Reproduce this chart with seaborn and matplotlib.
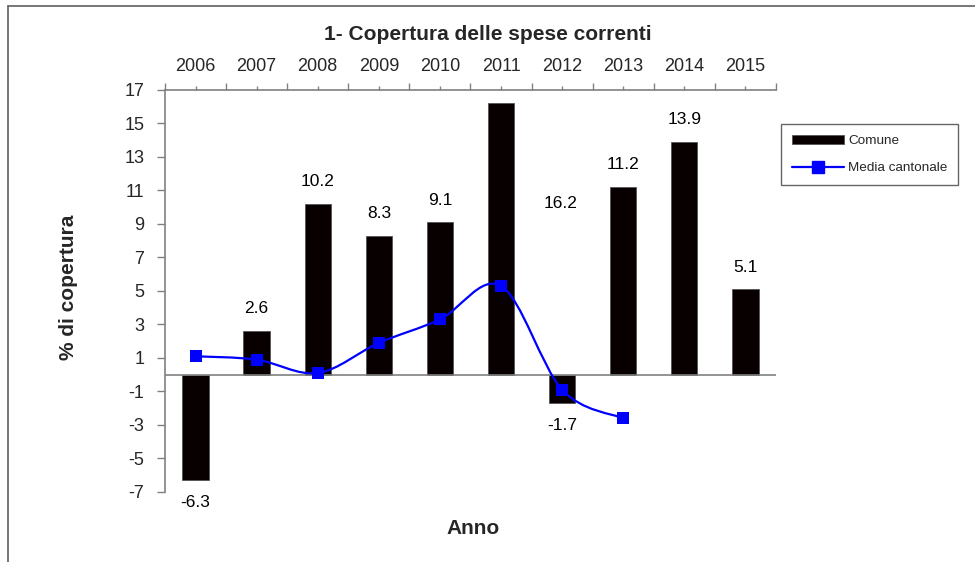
import numpy as np
import pandas as pd
import matplotlib
matplotlib.use("Agg")
import matplotlib.pyplot as plt
import seaborn as sns
from matplotlib.path import Path
from matplotlib.patches import PathPatch, Patch
from matplotlib.lines import Line2D


# =========================
# Data
# =========================

years = ["2006", "2007", "2008", "2009", "2010",
         "2011", "2012", "2013", "2014", "2015"]

comune = [-6.3, 2.6, 10.2, 8.3, 9.1, 16.2, -1.7, 11.2, 13.9, 5.1]

media_cantonale = [1.1, 0.9, 0.1, 1.9, 3.3, 5.3, -0.9, -2.6]

y_ticks = list(range(-7, 18, 2))


# =========================
# Style
# =========================

sns.set_theme(style="white")
plt.rcParams["font.family"] = ["Liberation Sans", "DejaVu Sans"]

BAR_COLOR = "#080000"
LINE_COLOR = "#0000ff"
AXIS_GRAY = "#808080"


fig = plt.figure(figsize=(9.75, 5.62), dpi=100)

ax = fig.add_axes([0.1692, 0.1246, 0.6267, 0.7153])


# =========================
# Bars
# =========================

df = pd.DataFrame({"anno": years, "valore": comune})

sns.barplot(
    data=df,
    x="anno",
    y="valore",
    color=BAR_COLOR,
    saturation=1,
    width=0.43,
    edgecolor="#555555",
    linewidth=0.6,
    ax=ax
)


# bar labels
for i, v in enumerate(comune):
    if years[i] == "2011":
        # label moved aside in the original
        ax.annotate(
            f"{v:.1f}", (i, v),
            xytext=(43, -72), textcoords="offset points",
            ha="center", va="center", fontsize=12.5, color="black"
        )
        continue
    off = 16 if v >= 0 else -16
    ax.annotate(
        f"{v:.1f}", (i, v),
        xytext=(0, off), textcoords="offset points",
        ha="center", va="center", fontsize=12.5, color="black"
    )


# =========================
# Smoothed line (Excel-like)
# =========================

pos = np.arange(len(media_cantonale), dtype=float)
pts = np.column_stack([pos, media_cantonale])

n = len(pts)
verts = [tuple(pts[0])]
codes = [Path.MOVETO]
for i in range(n - 1):
    p_prev = pts[max(i - 1, 0)]
    p0 = pts[i]
    p1 = pts[i + 1]
    p_next = pts[min(i + 2, n - 1)]
    c1 = p0 + (p1 - p_prev) / 6.0
    c2 = p1 - (p_next - p0) / 6.0
    verts += [tuple(c1), tuple(c2), tuple(p1)]
    codes += [Path.CURVE4, Path.CURVE4, Path.CURVE4]

ax.add_patch(
    PathPatch(
        Path(verts, codes),
        fill=False,
        edgecolor=LINE_COLOR,
        linewidth=1.6,
        zorder=4
    )
)

sns.scatterplot(
    x=pos,
    y=media_cantonale,
    marker="s",
    s=70,
    color=LINE_COLOR,
    edgecolor=LINE_COLOR,
    linewidth=0,
    zorder=5,
    ax=ax
)


# =========================
# Axes
# =========================

ax.set_xlim(-0.5, len(years) - 0.5)
ax.set_ylim(-7, 17)
ax.set_yticks(y_ticks)
ax.set_yticklabels([str(t) for t in y_ticks], fontsize=13)

ax.axhline(0, color=AXIS_GRAY, linewidth=1.2, zorder=3)

# years on top
ax.xaxis.tick_top()
ax.set_xticks(np.arange(len(years) + 1) - 0.5)
ax.set_xticklabels([])
ax.set_xticks(np.arange(len(years)), minor=True)
ax.set_xticklabels(years, minor=True, fontsize=13)
ax.tick_params(axis="x", which="major", direction="out", length=5,
               width=1, color=AXIS_GRAY, top=True, bottom=False)
ax.tick_params(axis="x", which="minor", direction="out", length=3,
               width=1, color=AXIS_GRAY, top=True, bottom=False, pad=8)
ax.tick_params(axis="y", direction="out", length=6, width=1,
               color=AXIS_GRAY, left=True, pad=9)

for side in ["right", "bottom"]:
    ax.spines[side].set_visible(False)
for side in ["left", "top"]:
    ax.spines[side].set_color(AXIS_GRAY)
    ax.spines[side].set_linewidth(1.2)

ax.set_xlabel("")
ax.set_ylabel("")
ax.grid(False)


# =========================
# Titles
# =========================

fig.text(0.5005, 0.9395, "1- Copertura delle spese correnti",
         ha="center", va="center", fontsize=15, fontweight="bold")

fig.text(473 / 975, 1 - 529 / 562, "Anno",
         ha="center", va="center", fontsize=15, fontweight="bold")

fig.text(68 / 975, 1 - 287 / 562, "% di copertura",
         ha="center", va="center", fontsize=15, fontweight="bold",
         rotation=90)


# =========================
# Legend
# =========================

handles = [
    Patch(facecolor=BAR_COLOR, edgecolor="#555555", linewidth=0.6),
    Line2D([], [], color=LINE_COLOR, linewidth=1.6,
           marker="s", markersize=8)
]

leg = fig.legend(
    handles,
    ["Comune", "Media cantonale"],
    loc="upper left",
    bbox_to_anchor=(781 / 975, 1 - 124 / 562),
    bbox_transform=fig.transFigure,
    borderaxespad=0,
    fontsize=9.7,
    handlelength=3.9,
    labelspacing=1.1,
    handletextpad=0.3,
    borderpad=0.8,
    fancybox=False,
    frameon=True
)
leg.get_frame().set_edgecolor("#404040")
leg.get_frame().set_linewidth(1.0)


# =========================
# Outer frame (chart area, cropped)
# =========================

fig.add_artist(Line2D([8 / 975, 1], [1 - 6 / 562, 1 - 6 / 562],
                      transform=fig.transFigure, color="#606060", lw=1.2))
fig.add_artist(Line2D([8 / 975, 8 / 975], [0, 1 - 6 / 562],
                      transform=fig.transFigure, color="#606060", lw=1.2))


plt.savefig("out.png", dpi=100)
